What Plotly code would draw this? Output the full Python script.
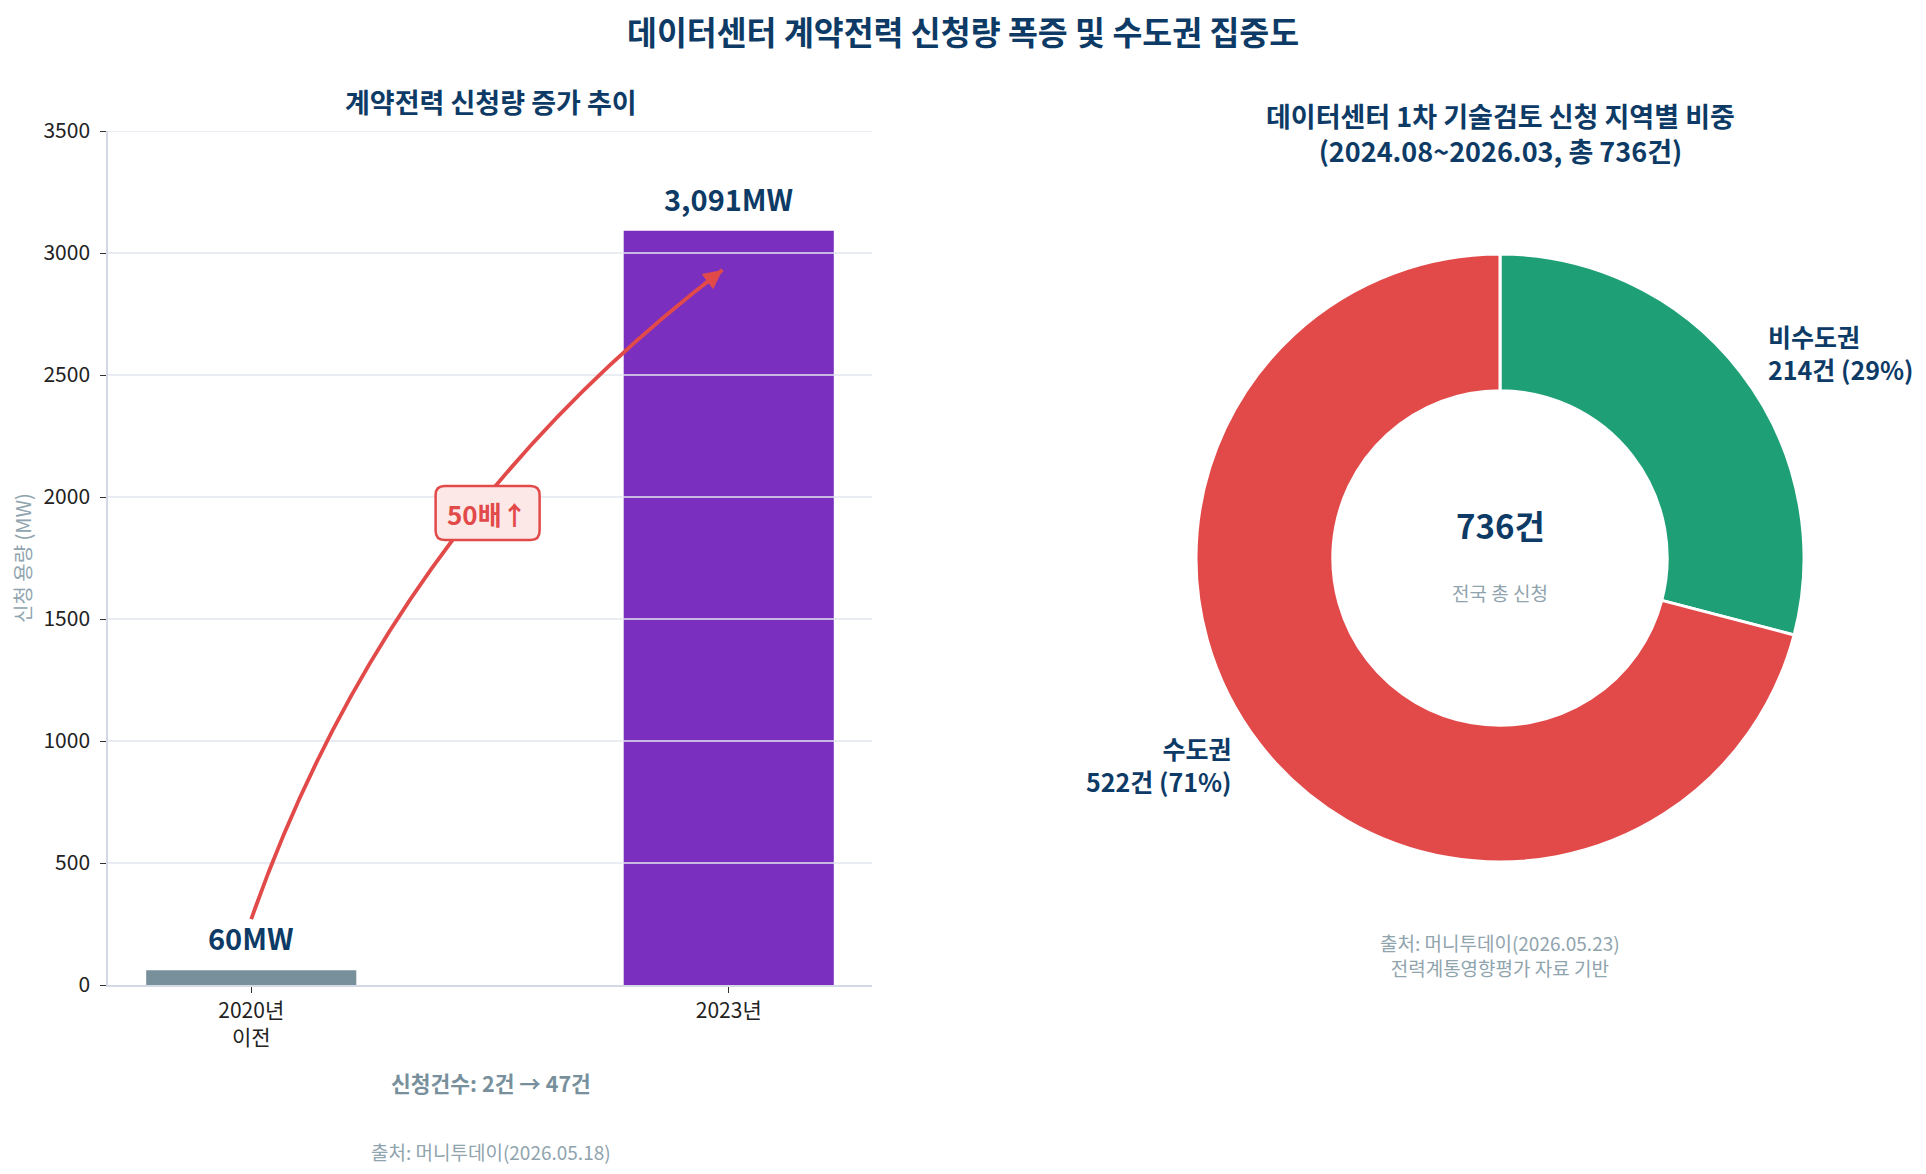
import plotly.graph_objects as go

# 왼쪽: 계약전력 신청량
years = ["2020년<br>이전", "2023년"]
capacity_mw = [60, 3091]
bar_colors = ["#78909C", "#7B2FBE"]
y_ticks = [0, 500, 1000, 1500, 2000, 2500, 3000, 3500]

# 오른쪽: 지역별 신청 건수
regions = ["비수도권", "수도권"]
counts = [214, 522]
pie_colors = ["#1E9F75", "#E24A4A"]

NAVY = "#0D3B66"
GRAY = "#78909C"
LIGHT = "#90A4AE"
RED = "#E24A4A"
FONT = "Noto Sans CJK KR"
W, H = 1926, 1174
OFF = 8  # 페이지 body 여백

total = sum(counts)
xs = list(range(len(years)))


def px(x):
    # 화면 x 픽셀 -> paper 좌표
    return (x - OFF) / W


def py(y):
    # 화면 y 픽셀(위에서부터) -> paper 좌표
    return (H - (y - OFF)) / H


fig = go.Figure()

fig.add_trace(go.Bar(
    x=xs, y=capacity_mw, width=0.44,
    marker=dict(color=bar_colors, line=dict(width=0)),
    hoverinfo="skip", showlegend=False,
))

pie_cx, pie_cy, pie_r = 1500, 558, 304
fig.add_trace(go.Pie(
    labels=regions, values=counts, hole=0.55, sort=False,
    direction="clockwise", rotation=0,
    marker=dict(colors=pie_colors, line=dict(color="white", width=3)),
    textinfo="none", showlegend=False,
    domain=dict(x=[px(pie_cx - pie_r), px(pie_cx + pie_r)],
                y=[py(pie_cy + pie_r), py(pie_cy - pie_r)]),
))

axis_common = dict(showgrid=False, zeroline=False, automargin=False,
                   showline=True, linecolor="#D3DAE5", linewidth=1.5,
                   ticks="outside", ticklen=6, tickcolor="#333", tickwidth=1.2,
                   tickfont=dict(size=21, color="#222"))

x_range = [-0.3, 1.3]
y_range = [0, 3500]
fig.update_layout(
    width=W, height=H,
    margin=dict(l=0, r=0, t=0, b=0, autoexpand=False),
    paper_bgcolor="white", plot_bgcolor="white",
    font=dict(family=FONT, color="#222"),
    xaxis=dict(domain=[px(108), px(872)], range=x_range,
               tickvals=xs, ticktext=years, **axis_common),
    yaxis=dict(domain=[py(985), py(131)], range=y_range, tickvals=y_ticks,
               ticklabelstandoff=6, **axis_common),
)

# 막대 위로 지나가는 격자선
for t in y_ticks[1:]:
    fig.add_shape(type="line", xref="x domain", yref="y", x0=0, x1=1, y0=t, y1=t,
                  line=dict(color="#E2E6EE", width=1.5), layer="above")

# 곡선 화살표
x0, y0 = 0.0, 270
x1, y1 = 0.987, 2930
cx, cy = 0.29, 1890
fig.add_shape(type="path", xref="x", yref="y",
              path=f"M {x0},{y0} Q {cx},{cy} {x1},{y1}",
              line=dict(color=RED, width=3.8), layer="above")
fig.add_annotation(x=x1, y=y1, ax=x1 - 0.06 * (x1 - cx), ay=y1 - 0.06 * (y1 - cy),
                   xref="x", yref="y", axref="x", ayref="y", text="",
                   showarrow=True, arrowhead=2, arrowsize=1, arrowwidth=3.8,
                   arrowcolor=RED)

# "50배↑" 둥근 상자 (픽셀 크기를 데이터 단위로 환산)
bx, by = 0.495, 1934
ux = (x_range[1] - x_range[0]) / (872 - 108)
uy = (y_range[1] - y_range[0]) / (985 - 131)
hw, hh, rr = 52 * ux, 27 * uy, 9
rx, ry = rr * ux, rr * uy
box_path = (
    f"M {bx - hw + rx},{by + hh} L {bx + hw - rx},{by + hh} "
    f"Q {bx + hw},{by + hh} {bx + hw},{by + hh - ry} "
    f"L {bx + hw},{by - hh + ry} Q {bx + hw},{by - hh} {bx + hw - rx},{by - hh} "
    f"L {bx - hw + rx},{by - hh} Q {bx - hw},{by - hh} {bx - hw},{by - hh + ry} "
    f"L {bx - hw},{by + hh - ry} Q {bx - hw},{by + hh} {bx - hw + rx},{by + hh} Z"
)
fig.add_shape(type="path", xref="x", yref="y", path=box_path,
              fillcolor="#FDE8E8", line=dict(color=RED, width=2.5), layer="above")
fig.add_annotation(x=bx, y=by, xref="x", yref="y", text="<b>50배↑</b>",
                   showarrow=False, font=dict(size=26, color=RED),
                   xanchor="center", yanchor="middle")

for i, v in enumerate(capacity_mw):
    fig.add_annotation(x=xs[i], y=v, xref="x", yref="y", text=f"{v:,}MW",
                       showarrow=False, xanchor="center", yanchor="bottom", yshift=10,
                       font=dict(size=29, color=NAVY, weight=600))


def note(x, y, text, size, color, bold=False, **kw):
    fig.add_annotation(x=x, y=y, xref="paper", yref="paper",
                       text=f"<b>{text}</b>" if bold else text, showarrow=False,
                       xanchor=kw.pop("xanchor", "center"), yanchor="middle",
                       font=dict(size=size, color=color), **kw)


note(px(W / 2), py(30), "데이터센터 계약전력 신청량 폭증 및 수도권 집중도", 32.5, NAVY, bold=True)

note(px(22), py(558), "신청 용량 (MW)", 20, LIGHT, textangle=-90)
note(px(491), py(102), "계약전력 신청량 증가 추이", 27, NAVY, bold=True)
note(px(491), py(1082), "신청건수: 2건 → 47건", 21.5, GRAY, bold=True)
note(px(491), py(1151), "출처: 머니투데이(2026.05.18)", 19, LIGHT)

note(px(pie_cx), py(133), f"데이터센터 1차 기술검토 신청 지역별 비중<br>(2024.08~2026.03, 총 {total}건)",
     27, NAVY, bold=True)
note(px(pie_cx), py(525), f"{total}건", 33, NAVY, bold=True)
note(px(pie_cx), py(592), "전국 총 신청", 19, LIGHT)
note(px(pie_cx), py(955), "출처: 머니투데이(2026.05.23)<br>전력계통영향평가 자료 기반", 19, LIGHT)

# 도넛 바깥 라벨
label_pos = [(1766, 352, "left"), (1233, 764, "right")]
for (lx, ly, anchor), name, c in zip(label_pos, regions, counts):
    note(px(lx), py(ly), f"{name}<br>{c}건 ({c / total * 100:.0f}%)", 25, NAVY,
         bold=True, xanchor=anchor, align=anchor)

fig.write_html("out.html")
